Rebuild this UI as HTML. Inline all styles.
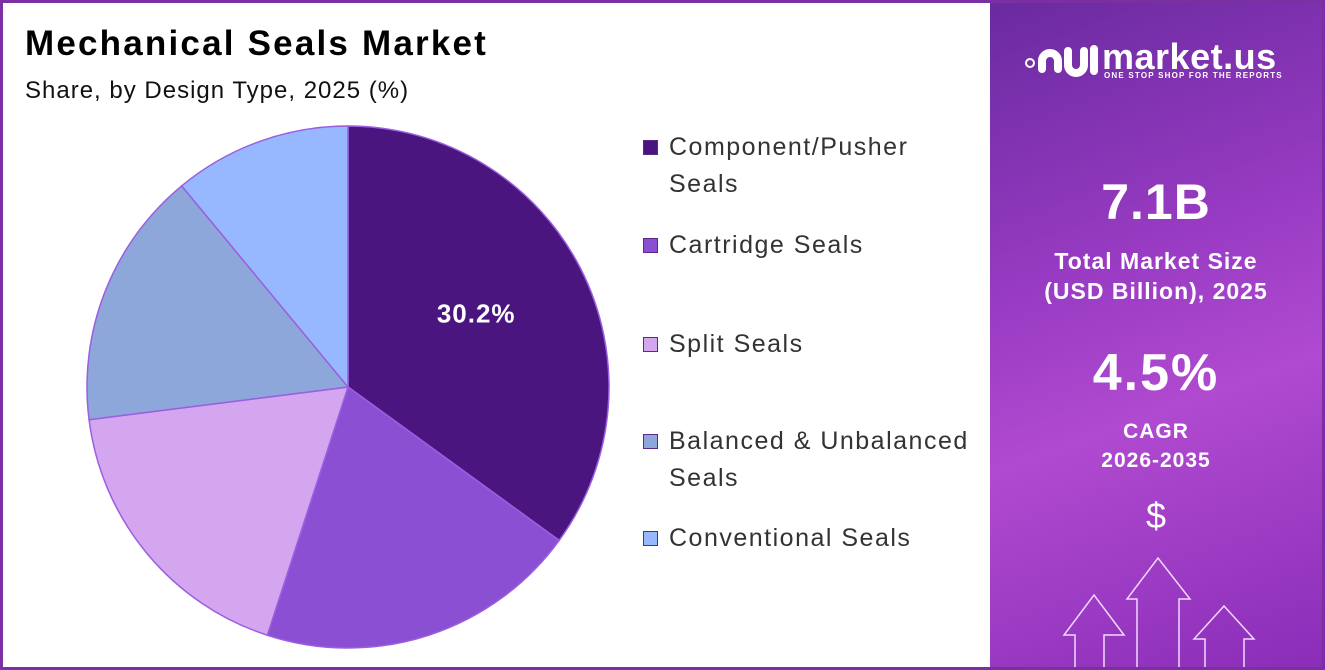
<!DOCTYPE html>
<html><head><meta charset="utf-8"><style>
html,body{margin:0;padding:0}
body{width:1325px;height:670px;position:relative;overflow:hidden;background:#fff;font-family:"Liberation Sans",sans-serif}
.frame{position:absolute;left:0;top:0;width:1319px;height:664px;border:3px solid #7a2fa3}
.title{position:absolute;left:25px;top:24px;font-size:35px;font-weight:bold;color:#000;letter-spacing:2.2px}
.sub{position:absolute;left:25px;top:77px;font-size:24px;color:#111;letter-spacing:1px}
.leg{position:absolute;left:643px;font-size:25px;color:#333;line-height:37px;letter-spacing:1.5px;white-space:nowrap}
.sw{position:absolute;left:0;top:11px;width:15px;height:15px;border:1.5px solid #5a2a8a;box-sizing:border-box}
.leg span.t{margin-left:26px;display:block}
.panel{position:absolute;left:990px;top:3px;width:332px;height:664px;background:linear-gradient(160deg,#6a2aa0 0%,#9a3cc4 40%,#b04ad0 60%,#8a2db8 100%)}
.pt{position:absolute;width:100%;text-align:center;color:#fff;font-weight:bold}
</style></head><body>
<div class="frame"></div>
<div class="title">Mechanical Seals Market</div>
<div class="sub">Share, by Design Type, 2025 (%)</div>
<svg id="pie" width="990" height="670" style="position:absolute;left:0;top:0"></svg>
<div id="legend"></div>
<div class="panel">
  <svg width="80" height="50" style="position:absolute;left:34px;top:36px">
    <g fill="none" stroke="#fff" stroke-width="8" stroke-linecap="round">
      <circle cx="6" cy="24" r="1"/>
      <path d="M18 30 V22 a8 8 0 0 1 16 0 V30"/>
      <path d="M44 12 V26 a8 8 0 0 0 16 0 V12"/>
      <path d="M70 10 V32"/>
    </g>
  </svg>
  <div class="pt" style="top:33px;font-size:36px;left:112px;width:200px;text-align:left;letter-spacing:0.5px">market.us</div>
  <div class="pt" style="top:68px;font-size:8px;left:114px;width:200px;text-align:left;letter-spacing:1.2px">ONE STOP SHOP FOR THE REPORTS</div>
  <div class="pt" style="top:170px;font-size:50px;letter-spacing:1px">7.1B</div>
  <div class="pt" style="top:243px;font-size:23px;line-height:30px;letter-spacing:1px">Total Market Size<br>(USD Billion), 2025</div>
  <div class="pt" style="top:340px;font-size:52px;letter-spacing:2px">4.5%</div>
  <div class="pt" style="top:414px;font-size:21px;line-height:29px;letter-spacing:1px">CAGR<br>2026-2035</div>
  <div class="pt" style="top:492px;font-size:36px;font-weight:normal">$</div>
  <svg width="332" height="664" style="position:absolute;left:0;top:0">
    <g fill="none" stroke="#f3d8ff" stroke-width="1.5">
      <path d="M85 664 V632 H74 L104 592 L134 632 H114 V664"/>
      <path d="M147 664 V596 H137 L168 555 L200 596 H189 V664"/>
      <path d="M215 664 V636 H204 L234 603 L264 636 H254 V664"/>
    </g>
  </svg>
</div>
<script>
const categories=["Component/Pusher Seals","Cartridge Seals","Split Seals","Balanced & Unbalanced Seals","Conventional Seals"];
const values=[35,20,18,16,11];
const printedLabels=["30.2%","","","",""];
const colors=["#4b1580","#8a4fd2","#d4a6ef","#8ea7db","#97b8ff"];
const legendTops=[129,227,326,423,520];
const legendLines=[["Component/Pusher","Seals"],["Cartridge Seals"],["Split Seals"],["Balanced & Unbalanced","Seals"],["Conventional Seals"]];
const svg=document.getElementById('pie');
const NS="http://www.w3.org/2000/svg";
const cx=348,cy=387,r=261;
const total=values.reduce((a,b)=>a+b,0);
function pt(a,rr){return [cx+rr*Math.sin(a),cy-rr*Math.cos(a)];}
let a0=0;
values.forEach((v,i)=>{
  const a1=a0+v/total*2*Math.PI;
  const p0=pt(a0,r),p1=pt(a1,r);
  const large=(a1-a0)>Math.PI?1:0;
  const p=document.createElementNS(NS,'path');
  p.setAttribute('d',`M${cx},${cy} L${p0[0]},${p0[1]} A${r},${r} 0 ${large} 1 ${p1[0]},${p1[1]} Z`);
  p.setAttribute('fill',colors[i]);
  p.setAttribute('stroke','#9a5fe0');
  p.setAttribute('stroke-width','1.5');
  
  
  svg.appendChild(p);
  if(printedLabels[i]){
    const m=pt((a0+a1)/2,0.62*r);
    const t=document.createElementNS(NS,'text');
    t.setAttribute('x',m[0]-16);t.setAttribute('y',m[1]+9);
    t.setAttribute('text-anchor','middle');t.setAttribute('fill','#fff');
    t.setAttribute('font-size','26');t.setAttribute('font-weight','bold');
    t.setAttribute('letter-spacing','1');
    t.setAttribute('font-family','Liberation Sans, sans-serif');
    t.textContent=printedLabels[i];
    
    
    svg.appendChild(t);
  }
  a0=a1;
});
const lg=document.getElementById('legend');
categories.forEach((c,i)=>{
  const d=document.createElement('div');
  d.className='leg';d.style.top=legendTops[i]+'px';
  
  
  d.innerHTML=`<div class="sw" style="background:${colors[i]}"></div><span class="t">${legendLines[i].join('<br>')}</span>`;
  lg.appendChild(d);
});
</script>
</body></html>
